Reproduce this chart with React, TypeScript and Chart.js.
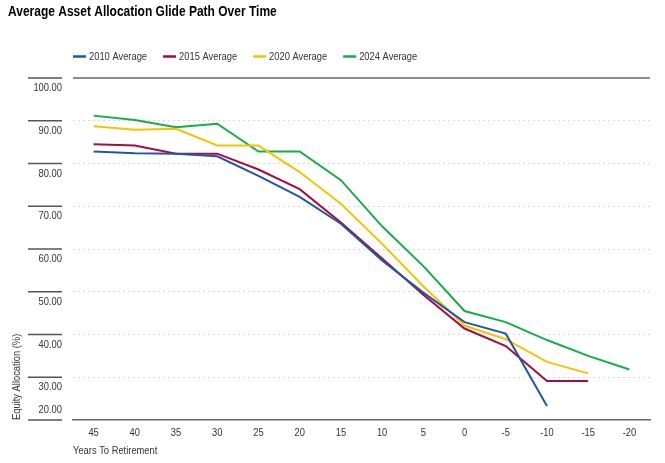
import React, { useEffect, useRef } from "react";
import { Chart, registerables } from "chart.js";

Chart.register(...registerables);

const FONT = "'Liberation Sans', Arial, sans-serif";

const categories = ["45", "40", "35", "30", "25", "20", "15", "10", "5", "0", "-5", "-10", "-15", "-20"];
const avg2010 = [82.8, 82.4, 82.3, 81.7, 77.1, 72.2, 65.9, 57.3, 49.8, 42.9, 40.2, 23.3, null, null];
const avg2015 = [84.5, 84.2, 82.3, 82.3, 78.6, 74.0, 66.2, 57.8, 49.3, 41.4, 37.3, 29.1, 29.1, null];
const avg2020 = [88.7, 87.9, 88.1, 84.2, 84.2, 78.0, 70.6, 61.2, 51.3, 42.1, 38.9, 33.6, 30.9, null];
const avg2024 = [91.2, 90.2, 88.5, 89.3, 82.8, 82.8, 76.1, 65.3, 56.0, 45.5, 42.9, 38.7, 35.0, 31.8];
const seriesLabels = ["2010 Average", "2015 Average", "2020 Average", "2024 Average"];
const yMin = 20;
const yMax = 100;
const yStep = 10;
const chartTitle = "Average Asset Allocation Glide Path Over Time";
const xTitle = "Years To Retirement";
const yTitle = "Equity Allocation (%)";

const COLORS = ["#2156a8", "#a50d3c", "#f5c400", "#15ad48"];

// condensed text: draws real text, compressed horizontally
function cText(
  ctx: CanvasRenderingContext2D,
  text: string,
  x: number,
  y: number,
  opts: { size: number; bold?: boolean; sx: number; align: CanvasTextAlign; baseline: CanvasTextBaseline; color: string; rot?: number }
) {
  ctx.save();
  ctx.translate(x, y);
  if (opts.rot) ctx.rotate(opts.rot);
  ctx.scale(opts.sx, 1);
  ctx.font = `${opts.bold ? "bold " : ""}${opts.size}px ${FONT}`;
  ctx.fillStyle = opts.color;
  ctx.textAlign = opts.align;
  ctx.textBaseline = opts.baseline;
  ctx.fillText(text, 0, 0);
  const w = ctx.measureText(text).width * opts.sx;
  ctx.restore();
  return w;
}

const SX = 0.85;
const TXT = "#333";

const decorPlugin = {
  id: "decor",
  afterDraw(chart: any) {
    const ctx = chart.ctx as CanvasRenderingContext2D;
    const area = chart.chartArea;
    const y = chart.scales.y;
    const x = chart.scales.x;
    ctx.save();

    // title
    cText(ctx, chartTitle, 8, 16, { size: 15, bold: true, sx: 0.8, align: "left", baseline: "alphabetic", color: "#000" });

    // top border line at max
    const yt = y.getPixelForValue(yMax);
    ctx.strokeStyle = "#666";
    ctx.lineWidth = 1.5;
    ctx.beginPath();
    ctx.moveTo(area.left, yt);
    ctx.lineTo(area.right, yt);
    ctx.stroke();

    // left tick marks and labels (labels sit below each line, the lowest one above)
    y.ticks.forEach((t: any) => {
      const py = y.getPixelForValue(t.value);
      ctx.strokeStyle = "#555";
      ctx.lineWidth = 1.3;
      ctx.beginPath();
      ctx.moveTo(28, py);
      ctx.lineTo(62, py);
      ctx.stroke();
      const ly = t.value === yMin ? py - 10 : py + 10;
      cText(ctx, Number(t.value).toFixed(2), 62, ly, { size: 11, sx: SX, align: "right", baseline: "middle", color: TXT });
    });

    // x tick labels
    x.ticks.forEach((t: any, i: number) => {
      const px = x.getPixelForTick(i);
      cText(ctx, String(x.getLabelForValue(t.value)), px, area.bottom + 13, { size: 11, sx: SX, align: "center", baseline: "middle", color: TXT });
    });

    // axis titles
    cText(ctx, xTitle, area.left, area.bottom + 31, { size: 11, sx: SX, align: "left", baseline: "middle", color: TXT });
    cText(ctx, yTitle, 17, area.bottom, { size: 11, sx: SX, align: "left", baseline: "middle", color: TXT, rot: -Math.PI / 2 });

    // legend
    let lx = area.left;
    const ly = 56.5;
    chart.data.datasets.forEach((ds: any) => {
      ctx.strokeStyle = ds.borderColor;
      ctx.lineWidth = 2.5;
      ctx.beginPath();
      ctx.moveTo(lx, ly);
      ctx.lineTo(lx + 13, ly);
      ctx.stroke();
      const w = cText(ctx, ds.label, lx + 16, ly, { size: 11, sx: SX, align: "left", baseline: "middle", color: TXT });
      lx += 16 + w + 16;
    });
    ctx.restore();
  },
};

export default function App() {
  const ref = useRef<HTMLCanvasElement | null>(null);

  useEffect(() => {
    if (!ref.current) return;
    const series = [avg2010, avg2015, avg2020, avg2024];
    const chart = new Chart(ref.current, {
      type: "line",
      data: {
        labels: categories,
        datasets: series.map((d, i) => ({
          label: seriesLabels[i],
          data: d,
          borderColor: COLORS[i],
          backgroundColor: COLORS[i],
          borderWidth: 2,
          pointRadius: 0,
          tension: 0,
          spanGaps: false,
        })),
      },
      options: {
        responsive: false,
        animation: false,
        layout: { padding: { left: 8, right: 15, top: 78, bottom: 0 } },
        plugins: {
          legend: { display: false },
          tooltip: { enabled: false },
          title: { display: false },
        },
        scales: {
          x: {
            type: "category",
            offset: true,
            grid: { display: false, drawTicks: false },
            border: { display: true, color: "#666", width: 1.5 },
            ticks: { display: false, autoSkip: false },
            afterFit: (s: any) => {
              s.height = 43;
            },
          },
          y: {
            min: yMin,
            max: yMax,
            ticks: { display: false, stepSize: yStep },
            grid: {
              drawTicks: false,
              color: (c: any) =>
                c.tick && (c.tick.value === yMax || c.tick.value === yMin) ? "rgba(0,0,0,0)" : "#d8d8d8",
              lineWidth: 1,
            },
            border: { display: false, dash: [2, 3] },
            afterFit: (s: any) => {
              s.width = 65;
            },
          },
        },
      } as any,
      plugins: [decorPlugin],
    });
    return () => chart.destroy();
  }, []);

  return (
    <div style={{ position: "absolute", left: 0, top: 0, width: 665, height: 463 }}>
      <canvas ref={ref} width={665} height={463} style={{ display: "block" }} />
    </div>
  );
}
